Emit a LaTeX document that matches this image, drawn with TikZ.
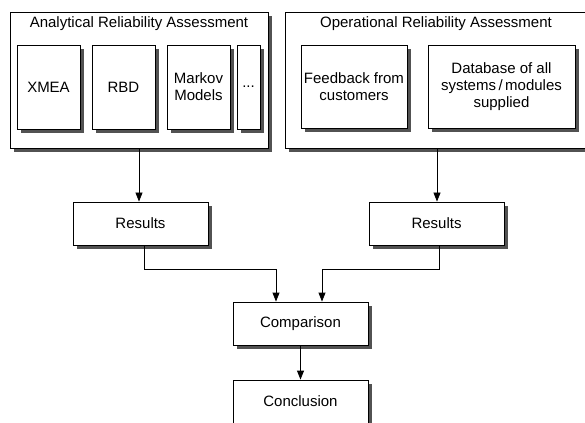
\documentclass[tikz,border=0pt]{standalone}
\usepackage{fontspec}
\setmainfont{Liberation Sans}
\usetikzlibrary{shadows,arrows.meta}
\begin{document}
\begin{tikzpicture}[x=0.03cm,y=-0.03cm,line width=0.7pt,
    font=\fontsize{12.8}{14.5}\selectfont,
    >={Triangle[length=2.7mm,width=2.1mm]},
    box/.style={draw,fill=white,align=center,inner sep=0pt,
      drop shadow={shadow xshift=1.3mm,shadow yshift=-1.3mm,opacity=1,fill=black!68}},
    frame/.style={box,minimum height=4.08cm}]
  \path[use as bounding box,clip] (0,0) rectangle (585,423);
  % the two assessment frames
  \node[frame,minimum width=7.74cm] (ana) at (139,80) {};
  \node[frame,minimum width=9.6cm] (ope) at (445,80) {};
  \node (anaT) at (139,24) {Analytical Reliability Assessment};
  \node (opeT) at (436,24) {Operational Reliability Assessment};
  % methods
  \path[every node/.style={box,minimum height=2.52cm,minimum width=1.89cm}]
    (48.5,87) node (xmea) {XMEA}
    (123.5,87) node (rbd) {RBD}
    (198.5,87) node (markov) {Markov\\Models}
    (248.5,87) node[minimum width=0.69cm] (etc) {...};
  \path[every node/.style={box,minimum height=2.49cm}]
    (354,86.5) node[minimum width=3.18cm] (feed) {Feedback from\\customers}
    (501.5,86.5) node[minimum width=4.41cm] (dbase) {Database of all\\systems\,/\,modules\\supplied};
  % evaluation
  \path[every node/.style={box,minimum height=1.29cm,minimum width=4.05cm}]
    (140.5,223.5) node (resA) {Results}
    (436.5,223.5) node (resO) {Results}
    (300.5,323.5) node (comp) {Comparison}
    (300.5,401.5) node (concl) {Conclusion};
  \coordinate (jA) at (276,269);
  \coordinate (jO) at (322,269);
  \draw[->] (ana.south -| 139,0) -- (resA.north -| 139,0);
  \draw[->] (ope.south -| 437,0) -- (resO.north -| 437,0);
  \draw[->] (resA.south -| 144,0) |- (jA) -- (jA |- comp.north);
  \draw[->] (resO.south -| 439,0) |- (jO) -- (jO |- comp.north);
  \draw[->] (comp) -- (concl);
\end{tikzpicture}
\end{document}
